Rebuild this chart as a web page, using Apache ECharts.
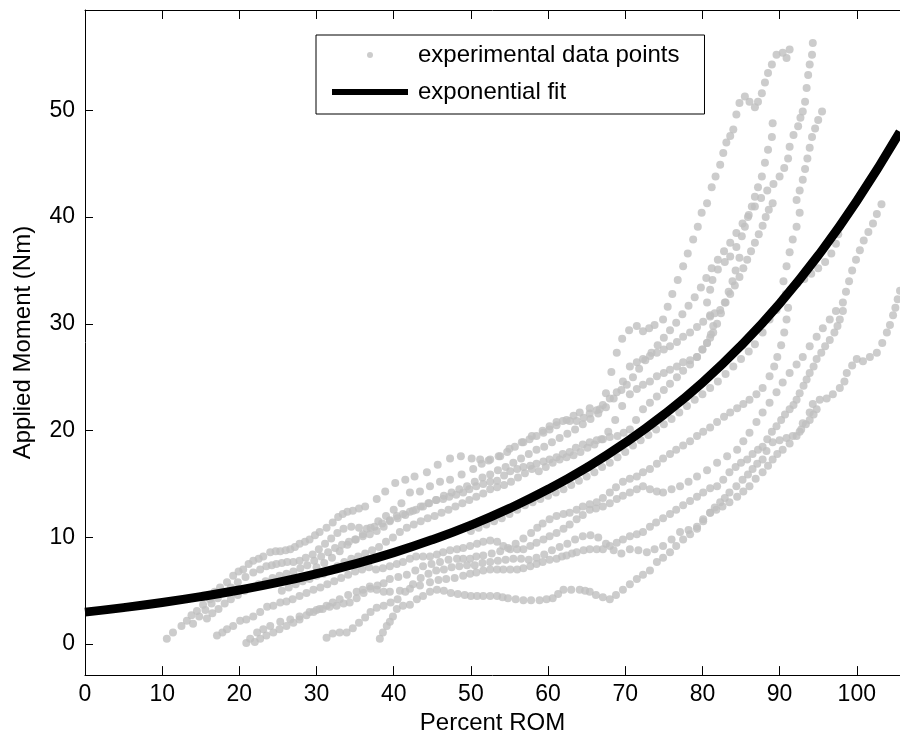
<!DOCTYPE html>
<html><head><meta charset="utf-8">
<script src="https://cdn.jsdelivr.net/npm/echarts@6/dist/echarts.min.js"></script>
<style>html,body{margin:0;padding:0;background:#fff}#chart{width:900px;height:740px}</style>
</head><body><div id="chart"></div>
<script>
const xTicks=[0,10,20,30,40,50,60,70,80,90,100];
const yTicks=[0,10,20,30,40,50];

const trial1=[10.6,0.5, 11.4,1.1, 12.5,1.7, 13.2,2.2, 13.8,2.7, 14.5,3.1, 15.3,3.7, 16.2,4.2, 16.8,4.9, 17.5,5.3, 18.4,5.8, 19.2,6.4, 19.9,6.8, 20.5,7.0, 21.2,7.5, 21.8,7.8, 22.5,8.0, 23.1,8.2, 24.0,8.6, 24.7,8.7, 25.3,8.7, 26.0,8.8, 26.6,8.9, 27.2,9.1, 27.8,9.4, 28.5,9.6, 29.1,9.8, 29.8,10.2, 30.4,10.5, 31.3,10.9, 32.1,11.4, 32.8,11.9, 33.4,12.2, 34.0,12.4, 34.7,12.5, 35.5,12.7, 36.3,12.9, 37.8,13.6, 38.9,14.3, 40.2,15.1, 41.5,15.4, 42.7,15.7, 44.3,16.1, 45.7,16.8, 47.3,17.4, 48.7,17.6, 50.1,17.4, 51.2,17.3, 52.3,17.2, 53.8,17.6, 55.0,18.3, 56.6,18.9, 57.9,19.5, 59.3,20.0, 60.2,20.4, 61.1,20.8, 62.4,21.0, 63.3,21.4, 64.1,21.7, 65.4,22.1, 66.7,22.0, 67.5,23.5, 68.2,25.5, 68.9,27.3, 69.6,28.6, 70.5,29.4, 71.5,29.8, 72.3,29.3, 73.1,29.6, 73.8,29.9, 74.9,30.4, 75.5,31.6, 76.1,32.8, 76.8,34.1, 77.5,35.4, 78.1,36.6, 78.8,37.9, 79.4,39.1, 79.9,40.4, 80.6,41.3, 81.2,42.8, 81.7,43.8, 82.3,44.9, 82.7,46.0, 83.1,47.0, 83.6,47.6, 84.0,48.2, 84.4,49.6, 84.8,50.7, 85.5,51.3, 86.1,50.8, 86.8,50.3, 87.2,50.8, 87.7,51.6, 88.1,52.6, 88.5,53.5, 89.0,54.3, 89.6,55.2, 90.4,55.4, 90.9,54.9, 91.3,55.7];

const trial2=[14.0,1.9, 14.8,2.6, 15.6,3.2, 16.4,3.8, 17.2,4.3, 18.0,4.9, 18.9,5.3, 19.8,5.8, 20.8,6.3, 21.8,6.7, 22.7,7.0, 23.5,7.3, 24.2,7.4, 24.8,7.5, 25.5,7.6, 26.2,7.7, 27.0,7.7, 27.8,7.8, 28.6,8.1, 29.5,8.4, 30.3,8.9, 31.1,9.4, 31.9,9.9, 32.7,10.4, 33.5,10.8, 34.5,11.0, 35.5,10.9, 36.5,10.8, 37.5,11.0, 38.5,11.3, 39.5,11.6, 40.5,11.8, 41.5,12.1, 42.5,12.5, 43.5,12.9, 44.5,13.2, 45.5,13.5, 46.5,13.9, 47.5,14.2, 48.5,14.5, 49.5,14.8, 50.5,15.2, 51.5,15.6, 52.5,15.9, 53.5,16.3, 54.5,16.6, 55.5,17.0, 56.5,17.4, 57.5,17.8, 58.5,18.2, 59.5,18.5, 60.5,18.9, 61.5,19.3, 62.5,19.7, 63.5,20.1, 64.5,20.6, 65.5,21.1, 66.5,21.6, 67.5,22.2, 68.5,23.0, 69.5,23.8, 70.2,24.3, 71.0,25.0, 71.8,25.8, 72.6,26.6, 73.4,27.3, 74.2,28.0, 75.0,28.7, 75.8,29.4, 76.6,30.1, 77.4,30.9, 78.2,31.7, 79.0,32.5, 79.8,33.4, 80.5,34.3, 81.2,35.2, 82.0,36.0, 82.8,36.8, 83.6,37.6, 84.4,38.5, 85.2,39.4, 86.0,40.2, 86.8,41.0, 87.6,41.8, 88.4,42.5, 89.2,43.1, 90.0,43.8, 90.6,44.6, 91.1,45.5, 91.3,46.6, 91.8,47.7, 92.4,48.5, 92.7,49.3, 93.0,49.9, 93.3,50.8, 93.5,52.1, 93.7,53.3, 93.9,54.3, 94.2,55.2, 94.3,56.3];

const trial3=[17.1,0.8, 17.8,1.1, 18.4,1.4, 19.2,1.7, 20.1,2.2, 20.9,2.3, 21.8,2.6, 22.7,3.0, 23.6,3.5, 24.4,3.6, 25.3,3.9, 26.1,4.0, 26.9,4.2, 27.8,4.5, 28.7,4.8, 29.6,5.1, 30.5,5.3, 31.4,5.6, 32.3,5.9, 33.2,6.2, 34.1,6.5, 35.0,6.8, 35.9,7.0, 36.8,7.2, 37.7,7.0, 38.6,7.1, 39.5,7.3, 40.4,7.5, 41.2,7.7, 42.1,8.0, 42.9,8.2, 43.8,8.2, 44.7,8.2, 45.6,8.4, 46.4,8.6, 47.3,8.8, 48.2,8.9, 49.0,9.0, 49.9,9.2, 50.8,9.4, 51.6,9.6, 52.5,9.7, 53.4,9.6, 54.2,9.2, 55.1,8.9, 56.0,8.9, 56.8,8.9, 57.7,9.2, 58.5,9.5, 59.4,9.8, 60.2,10.1, 61.1,10.4, 62.0,10.8, 62.8,11.2, 63.7,11.7, 64.5,12.1, 65.4,12.6, 66.2,12.7, 67.1,12.9, 68.0,13.2, 68.9,13.6, 69.7,13.9, 70.6,14.2, 71.5,14.5, 72.3,14.8, 73.2,14.5, 74.1,14.3, 74.9,14.2, 76.0,14.5, 77.1,14.8, 78.2,15.2, 79.3,15.7, 80.6,16.3, 81.9,17.0, 83.2,17.6, 84.5,18.2, 85.3,19.0, 86.1,19.8, 87.0,20.8, 87.8,21.7, 88.7,22.6, 89.6,23.6, 90.4,24.5, 91.3,25.4, 92.2,26.2, 93.0,26.9, 93.9,27.9, 94.8,28.8, 95.6,29.6, 96.5,30.4, 97.3,31.2, 98.2,32.0, 98.6,33.0, 99.0,34.0, 99.4,35.0, 99.9,36.0, 100.4,36.9, 100.9,37.8, 101.5,38.6, 102.1,39.4, 102.6,40.3, 103.2,41.2];

const trial4=[20.9,0.1, 21.4,0.5, 22.3,1.1, 23.1,1.4, 24.0,1.7, 25.3,2.1, 26.6,2.3, 27.8,2.6, 29.1,3.0, 30.0,3.2, 30.8,3.3, 31.7,3.5, 32.6,3.6, 33.5,3.8, 34.3,3.9, 35.2,4.3, 36.1,4.8, 37.0,5.2, 37.9,5.5, 38.7,5.7, 39.5,6.1, 40.6,6.3, 41.7,6.5, 42.8,6.9, 43.8,7.3, 44.9,7.5, 46.0,7.7, 47.1,7.9, 48.2,8.0, 49.0,8.0, 49.9,8.0, 50.7,8.2, 51.6,8.3, 52.7,8.5, 53.8,8.7, 54.8,9.0, 55.8,9.4, 56.8,9.9, 57.8,10.4, 58.6,10.9, 59.3,11.3, 60.2,11.7, 61.1,12.0, 62.0,12.2, 62.8,12.3, 63.7,12.6, 64.5,12.9, 65.4,13.1, 66.3,13.3, 67.1,13.7, 68.0,14.2, 68.8,14.7, 69.7,15.2, 70.6,15.5, 71.5,15.7, 72.3,16.1, 73.2,16.4, 74.1,16.9, 74.9,17.4, 75.8,17.8, 76.6,18.2, 77.5,18.6, 78.4,19.0, 79.3,19.5, 80.1,19.9, 81.0,20.3, 81.9,20.8, 82.8,21.3, 83.6,21.7, 84.5,22.1, 85.3,22.5, 86.1,22.9, 87.0,23.4, 87.8,24.0, 88.7,25.1, 89.3,26.0, 89.7,26.9, 90.2,28.0, 90.6,29.2, 90.9,30.4, 91.1,31.5, 90.8,32.8, 90.5,34.0, 90.9,35.4, 91.3,36.7, 91.7,37.9, 92.2,39.1, 92.6,40.4, 92.2,41.6, 92.6,42.5, 93.0,43.5, 93.3,44.5, 93.6,45.5, 93.9,46.5, 94.2,47.5, 94.6,48.3, 95.0,49.1, 95.5,49.9];

const trial5=[38.2,0.5, 38.6,1.1, 39.1,1.7, 39.5,2.1, 39.9,2.6, 40.4,3.3, 41.2,3.6, 42.1,3.7, 43.0,4.2, 43.8,4.5, 44.7,4.9, 45.6,5.1, 46.5,5.0, 47.4,4.8, 48.3,4.7, 49.2,4.6, 50.0,4.5, 50.8,4.5, 51.6,4.5, 52.5,4.5, 53.4,4.5, 54.1,4.4, 54.8,4.3, 55.8,4.2, 56.8,4.1, 57.8,4.1, 58.9,4.1, 59.8,4.2, 60.6,4.3, 61.3,4.7, 62.0,5.1, 63.0,5.1, 64.1,5.1, 64.8,5.0, 65.4,4.9, 66.2,4.6, 67.1,4.4, 68.0,4.2, 68.8,4.6, 69.7,5.1, 70.6,5.6, 71.5,6.1, 72.3,6.5, 73.2,6.9, 74.1,7.7, 74.9,8.1, 75.8,8.6, 76.6,9.2, 77.5,9.8, 78.4,10.3, 79.3,10.8, 80.1,11.5, 81.0,12.3, 81.6,12.8, 82.3,13.3, 82.9,13.7, 83.5,14.2, 84.4,14.8, 85.2,15.4, 85.9,15.9, 86.5,16.4, 87.1,16.9, 87.8,17.3, 88.3,18.1, 89.1,18.9, 90.0,19.1, 90.9,19.3, 91.7,19.5, 92.6,19.9, 93.0,20.7, 93.9,21.7, 94.3,22.5, 95.2,22.9, 96.1,23.0, 96.9,23.4, 97.8,24.0, 98.4,24.6, 98.7,25.4, 99.4,26.1, 100.0,26.7, 100.8,26.5, 101.7,26.9, 102.6,27.3, 103.3,28.2, 103.9,29.2, 104.3,29.9, 104.7,30.8, 105.0,31.5, 105.3,32.3, 105.6,33.1];

const trial6=[22.0,0.2, 22.7,0.5, 23.5,0.8, 24.4,1.1, 25.2,1.4, 26.1,1.7, 27.0,2.0, 27.8,2.3, 28.7,2.7, 29.6,3.0, 30.4,3.3, 31.3,3.6, 32.1,3.9, 33.0,4.2, 34.1,4.6, 35.2,4.9, 36.0,5.1, 36.9,5.4, 37.8,5.1, 38.7,4.9, 39.5,4.9, 40.8,5.0, 42.1,5.2, 43.4,5.5, 44.7,5.8, 45.8,6.0, 46.8,6.1, 47.9,6.2, 49.0,6.4, 49.9,6.6, 50.7,6.7, 51.6,6.9, 52.5,7.0, 53.4,7.0, 54.2,7.0, 55.1,7.0, 56.0,7.0, 56.8,7.1, 57.7,7.3, 58.5,7.5, 59.3,7.7, 60.2,7.9, 61.1,8.0, 61.8,8.2, 62.4,8.3, 63.1,8.5, 63.7,8.6, 64.6,8.8, 65.4,8.9, 66.3,8.9, 67.1,8.9, 68.0,9.2, 68.9,9.5, 69.7,9.8, 70.6,10.1, 71.5,10.3, 72.3,10.5, 73.2,11.0, 74.0,11.4, 74.9,11.8, 75.8,12.2, 76.6,12.6, 77.5,13.0, 78.4,13.4, 79.3,13.8, 80.1,14.2, 81.0,14.6, 81.9,14.8, 82.7,15.4, 83.5,16.1, 84.3,16.6, 85.0,17.0, 85.8,17.3, 86.5,17.8, 87.2,18.2, 87.8,18.5, 88.4,19.2, 89.0,19.9, 89.6,20.4, 90.2,21.0, 90.7,21.5, 91.3,22.0, 91.8,22.4, 92.2,22.9, 92.6,23.5, 93.1,24.2, 93.5,24.8, 93.9,25.4, 94.4,26.0, 94.8,26.7, 95.4,27.3, 95.9,27.9, 96.5,28.5, 97.1,29.2, 97.5,29.8, 97.8,30.4, 98.2,31.2];

const trial7=[31.3,0.6, 32.1,1.0, 33.0,1.1, 33.9,1.1, 34.7,1.5, 35.5,2.0, 36.3,2.5, 37.0,3.0, 37.8,3.4, 38.7,3.6, 39.6,3.9, 40.5,4.2, 41.5,4.9, 42.5,5.6, 43.5,6.2, 44.5,6.6, 45.5,6.9, 46.5,7.0, 47.5,7.2, 48.5,7.3, 49.5,7.4, 50.5,7.4, 51.5,7.6, 52.5,7.7, 53.5,7.8, 54.5,7.9, 55.5,8.0, 56.5,8.0, 57.5,7.9, 58.5,8.1, 59.5,8.4, 60.5,8.8, 61.5,9.1, 62.5,9.4, 63.5,9.8, 64.5,10.1, 65.5,10.2, 66.5,10.0, 67.5,9.4, 68.5,8.8, 69.5,8.5, 70.6,8.9, 71.7,8.8, 72.8,8.6, 73.8,8.9, 74.9,9.2, 76.0,9.8, 77.1,10.5, 78.2,10.7, 79.3,11.0, 80.1,11.7, 81.0,12.3, 81.8,12.6, 82.6,12.9, 83.5,13.3, 84.5,13.8, 85.3,14.3, 86.1,14.8, 86.9,15.5, 87.8,16.1, 88.5,16.7, 89.1,17.3, 89.7,17.8, 90.4,18.2, 91.3,18.8, 92.2,19.5, 92.8,20.1, 93.4,20.6, 93.9,21.0, 94.4,21.5, 94.8,22.0];

const trial8=[15.8,2.4, 16.5,2.9, 17.3,3.3, 18.1,3.8, 18.9,4.2, 19.8,4.6, 20.7,5.0, 21.6,5.3, 22.5,5.6, 23.4,5.9, 24.3,6.2, 25.2,6.4, 26.1,6.6, 27.0,6.8, 27.9,7.1, 28.8,7.4, 29.7,7.8, 30.6,8.2, 31.5,8.6, 32.4,9.0, 33.3,9.3, 34.2,9.6, 35.1,9.8, 36.0,10.1, 36.9,10.3, 37.8,10.6, 38.7,11.0, 39.5,11.5, 40.4,12.0, 41.2,12.2, 42.1,12.4, 42.9,12.6, 43.8,12.9, 44.6,13.2, 45.5,13.5, 46.4,13.6, 47.2,13.8, 48.1,14.0, 49.0,14.2, 49.8,14.5, 50.7,14.8, 51.6,15.0, 52.5,15.2, 53.4,15.3, 54.3,15.8, 55.1,16.2, 56.0,16.4, 56.8,16.6, 57.7,16.7, 58.5,16.9, 59.4,17.1, 60.2,17.3, 61.1,17.5, 61.9,17.8, 62.8,18.0, 63.6,18.4, 64.5,18.7, 65.4,18.9, 66.3,19.1, 67.1,19.2, 68.0,19.4, 69.0,19.5, 69.8,19.8, 70.6,20.1, 71.4,21.0, 72.3,22.0, 73.2,22.6, 74.1,23.2, 75.0,23.8, 75.8,24.4, 76.7,25.0, 77.5,25.6, 78.4,26.2, 79.3,26.9, 80.0,27.6, 80.6,28.2, 81.1,29.0, 81.4,29.8, 81.0,30.8, 80.6,32.0, 81.0,33.2, 81.3,34.1, 82.0,35.1, 82.9,35.8, 83.6,36.3, 84.4,37.2, 85.1,38.2, 85.5,39.1, 85.9,40.0, 86.4,41.0, 86.8,41.9, 87.2,42.8, 87.7,43.8, 88.1,45.1, 88.5,46.3, 89.0,47.5, 89.1,48.8];

const trial9=[30.0,7.2, 31.0,7.6, 32.0,8.1, 33.0,8.7, 34.0,9.3, 35.0,9.8, 36.0,10.3, 37.0,10.9, 38.0,11.5, 39.0,12.0, 40.0,12.6, 41.0,13.2, 42.1,14.2, 43.4,14.3, 44.7,14.8, 46.0,15.2, 47.3,15.4, 48.8,15.9, 50.3,16.4, 51.4,16.9, 52.5,17.3, 53.6,17.6, 54.7,18.0, 55.7,18.5, 56.8,18.9, 57.6,19.2, 58.5,19.5, 59.4,19.8, 60.2,20.1, 61.1,20.5, 61.9,20.9, 62.8,20.9, 63.7,20.9, 64.6,21.2, 65.4,21.6, 66.3,21.9, 67.1,22.4, 68.0,23.0, 68.9,23.6, 69.7,24.6, 70.6,26.0, 71.5,26.4, 72.3,26.7, 73.2,27.0, 74.1,27.3, 75.0,27.6, 75.8,27.9, 76.7,28.3, 77.5,28.8, 78.4,29.2, 79.3,29.7, 80.1,30.2, 81.0,30.7, 81.6,31.0, 82.3,31.3, 83.0,32.0, 83.6,32.8, 84.2,33.6, 84.8,34.4, 85.3,35.2, 85.8,36.0, 86.3,36.8, 86.8,37.6, 87.3,38.4, 87.8,39.2, 88.2,40.0, 88.6,40.7, 89.1,41.3];

const trial10=[25.5,5.0, 26.4,5.3, 27.3,5.6, 28.2,5.9, 29.1,6.1, 30.0,6.4, 30.9,6.6, 31.8,6.9, 32.7,7.3, 33.6,7.7, 34.5,8.0, 35.4,8.2, 36.3,8.5, 37.2,8.8, 38.1,9.1, 39.0,9.6, 39.9,10.0, 40.8,10.5, 41.7,10.9, 42.6,11.2, 43.5,11.5, 44.4,11.8, 45.3,12.0, 46.2,12.3, 47.1,12.6, 48.0,12.9, 48.9,13.2, 49.8,13.5, 50.7,13.8, 51.6,14.1, 52.5,14.5, 53.4,14.7, 54.3,14.9, 55.2,15.2, 56.1,15.6, 57.0,16.0, 57.9,16.4, 58.8,16.2, 59.7,16.6, 60.6,17.0, 61.5,17.3, 62.4,17.5, 63.3,17.7, 64.2,18.0, 65.1,18.4, 66.0,18.7, 66.9,19.2, 67.8,19.9, 68.7,21.0, 69.6,22.3, 70.6,23.4, 71.5,23.9, 72.3,24.3, 73.2,24.6, 74.1,25.1, 75.0,25.4, 75.8,25.7, 76.7,26.0, 77.5,26.4, 78.4,26.6, 79.3,26.9, 80.0,27.6, 80.6,28.2, 81.0,28.7, 81.4,29.2, 81.9,30.0, 82.4,31.0, 82.9,32.0, 83.4,33.0, 83.9,34.0, 84.3,35.0, 84.8,36.2];

const trial11=[50.0,10.6, 51.0,10.9, 52.0,11.2, 53.0,11.5, 54.0,11.8, 55.0,12.2, 56.0,12.6, 57.0,13.0, 58.0,13.3, 59.0,13.6, 60.0,13.9, 61.0,14.2, 62.0,14.5, 63.0,14.9, 64.0,15.3, 65.0,15.7, 66.0,16.1, 67.0,16.6, 68.0,17.0, 69.0,17.5, 70.0,18.0, 71.0,18.6, 72.0,19.1, 73.0,19.6, 74.0,20.1, 75.0,20.6, 76.0,21.1, 77.0,21.7, 78.0,22.3, 79.0,22.9, 80.0,23.4, 81.0,24.0, 82.0,24.6, 83.0,25.3, 84.0,26.0, 85.0,26.7, 86.0,27.4, 86.8,28.1, 87.8,29.2, 88.7,30.4, 89.6,31.3, 90.5,32.4, 91.4,33.2, 92.3,33.8, 93.2,34.2, 94.1,34.7, 95.0,35.2, 95.9,35.8, 96.7,36.6, 97.3,37.5, 97.6,38.4, 97.8,39.2];

const fitX=[0,5,10,15,20,25,30,35,40,45,50,55,60,65,70,75,80,85,90,95,100,105.6];
const fitY=[3.0,3.42,3.90,4.45,5.07,5.78,6.60,7.52,8.57,9.78,11.15,12.72,14.50,16.54,18.86,21.50,24.50,27.96,31.9,36.4,41.5,48.0];

const trials=[trial1,trial2,trial3,trial4,trial5,trial6,trial7,trial8,trial9,trial10,trial11];
function pairs(a){const r=[];for(let i=0;i<a.length;i+=2)r.push([a[i],a[i+1]]);return r;}

const FONT='"Liberation Sans", Arial, Helvetica, sans-serif';
const chart=echarts.init(document.getElementById('chart'),null,{renderer:'canvas'});
const series=trials.map(t=>({type:'scatter',name:'experimental data points',data:pairs(t),symbolSize:8,itemStyle:{color:'#bfbfbf'},z:2,silent:true}));
series.push({type:'line',name:'exponential fit',data:fitX.map((x,i)=>[x,fitY[i]]),showSymbol:false,smooth:true,lineStyle:{color:'#000',width:9},itemStyle:{color:'#000'},z:5,silent:true});

const axisCommon={axisLine:{onZero:false,lineStyle:{color:'#000',width:1}},splitLine:{show:false}};
chart.setOption({
  animation:false,
  grid:{left:85,right:0,top:10,bottom:64},
  legend:{left:316,top:35,orient:'vertical',padding:[8,25,10,16],itemGap:13,itemWidth:76,itemHeight:6,
    borderColor:'#000',borderWidth:1,backgroundColor:'#fff',selectedMode:false,
    textStyle:{fontSize:24,fontFamily:FONT,color:'#000',padding:[0,0,0,5]},
    data:[{name:'experimental data points',icon:'circle'},{name:'exponential fit',icon:'rect'}]},
  xAxis:[
    Object.assign({type:'value',min:0,max:105.6,position:'bottom',name:'Percent ROM',nameLocation:'middle',nameGap:34,
      nameTextStyle:{fontSize:24,fontFamily:FONT,color:'#000'},
      axisTick:{inside:true,length:9,customValues:xTicks,lineStyle:{color:'#000'}},
      axisLabel:{customValues:xTicks,margin:8,color:'#000',fontSize:23,fontFamily:FONT}},axisCommon),
    Object.assign({type:'value',min:0,max:105.6,position:'top',
      axisTick:{inside:true,length:9,customValues:xTicks,lineStyle:{color:'#000'}},
      axisLabel:{show:false}},axisCommon)
  ],
  yAxis:[
    Object.assign({type:'value',min:-2.9,max:59.4,position:'left',name:'Applied Moment (Nm)',nameLocation:'middle',nameGap:50,nameRotate:90,
      nameTextStyle:{fontSize:24,fontFamily:FONT,color:'#000'},
      axisTick:{inside:true,length:8,customValues:yTicks,lineStyle:{color:'#000'}},
      axisLabel:{customValues:yTicks,margin:10,color:'#000',fontSize:23,fontFamily:FONT}},axisCommon)
  ],
  series:series
});
</script></body></html>
